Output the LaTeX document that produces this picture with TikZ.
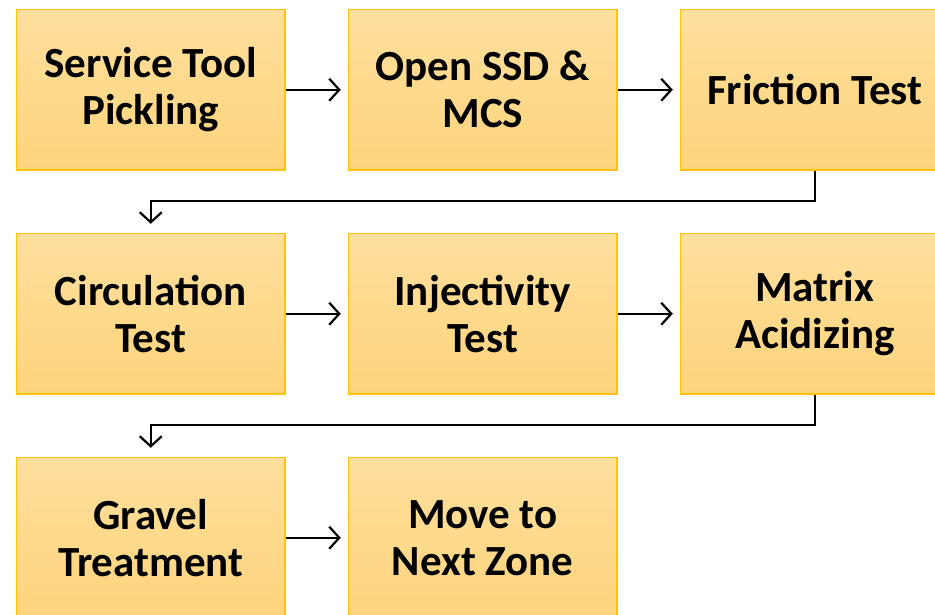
\documentclass[tikz,border=0pt]{standalone}
\usepackage{fontspec}
\setmainfont{Carlito}
\usetikzlibrary{positioning, arrows.meta}

\definecolor{boxtop}{HTML}{FEDF9D}
\definecolor{boxbot}{HTML}{FDD47C}
\definecolor{boxline}{HTML}{FFC20E}

\begin{document}
\begin{tikzpicture}[
    x=1pt, y=1pt,
    step-box/.style={draw=boxline, line width=1.5pt, top color=boxtop, bottom color=boxbot,
      minimum width=268.5pt, minimum height=160.5pt, inner sep=0pt, align=center,
      font=\fontsize{43}{47}\selectfont\bfseries},
    flow/.style={line width=2.2pt, -{Straight Barb[length=10pt, width=22pt, line width=2.2pt]}}
  ]

  \useasboundingbox (0,0) rectangle (935,-615);
  \clip (0,0) rectangle (935,-615);

  \node[step-box, anchor=north west] (pick) at (15.75,-8.75) {Service Tool\\Pickling};
  \node[step-box, right=62pt of pick] (ssd) {Open SSD \&\\MCS};
  \node[step-box, right=62pt of ssd] (fric) {Friction Test};

  \node[step-box, below=62pt of pick] (circ) {Circulation\\Test};
  \node[step-box, right=62pt of circ] (inj) {Injectivity\\Test};
  \node[step-box, right=62pt of inj] (acid) {Matrix\\Acidizing};

  \node[step-box, below=62pt of circ] (grav) {Gravel\\Treatment};
  \node[step-box, right=62pt of grav] (move) {Move to\\Next Zone};

  \draw[flow, shorten >=7pt] (pick) -- (ssd);
  \draw[flow, shorten >=7pt] (ssd) -- (fric);
  \draw[flow, shorten >=7pt] (circ) -- (inj);
  \draw[flow, shorten >=7pt] (inj) -- (acid);
  \draw[flow, shorten >=7pt] (grav) -- (move);

  \draw[flow, shorten >=9pt] (fric.south) -- ++(0,-30) -| (circ.north);
  \draw[flow, shorten >=9pt] (acid.south) -- ++(0,-30) -| (grav.north);

\end{tikzpicture}
\end{document}
